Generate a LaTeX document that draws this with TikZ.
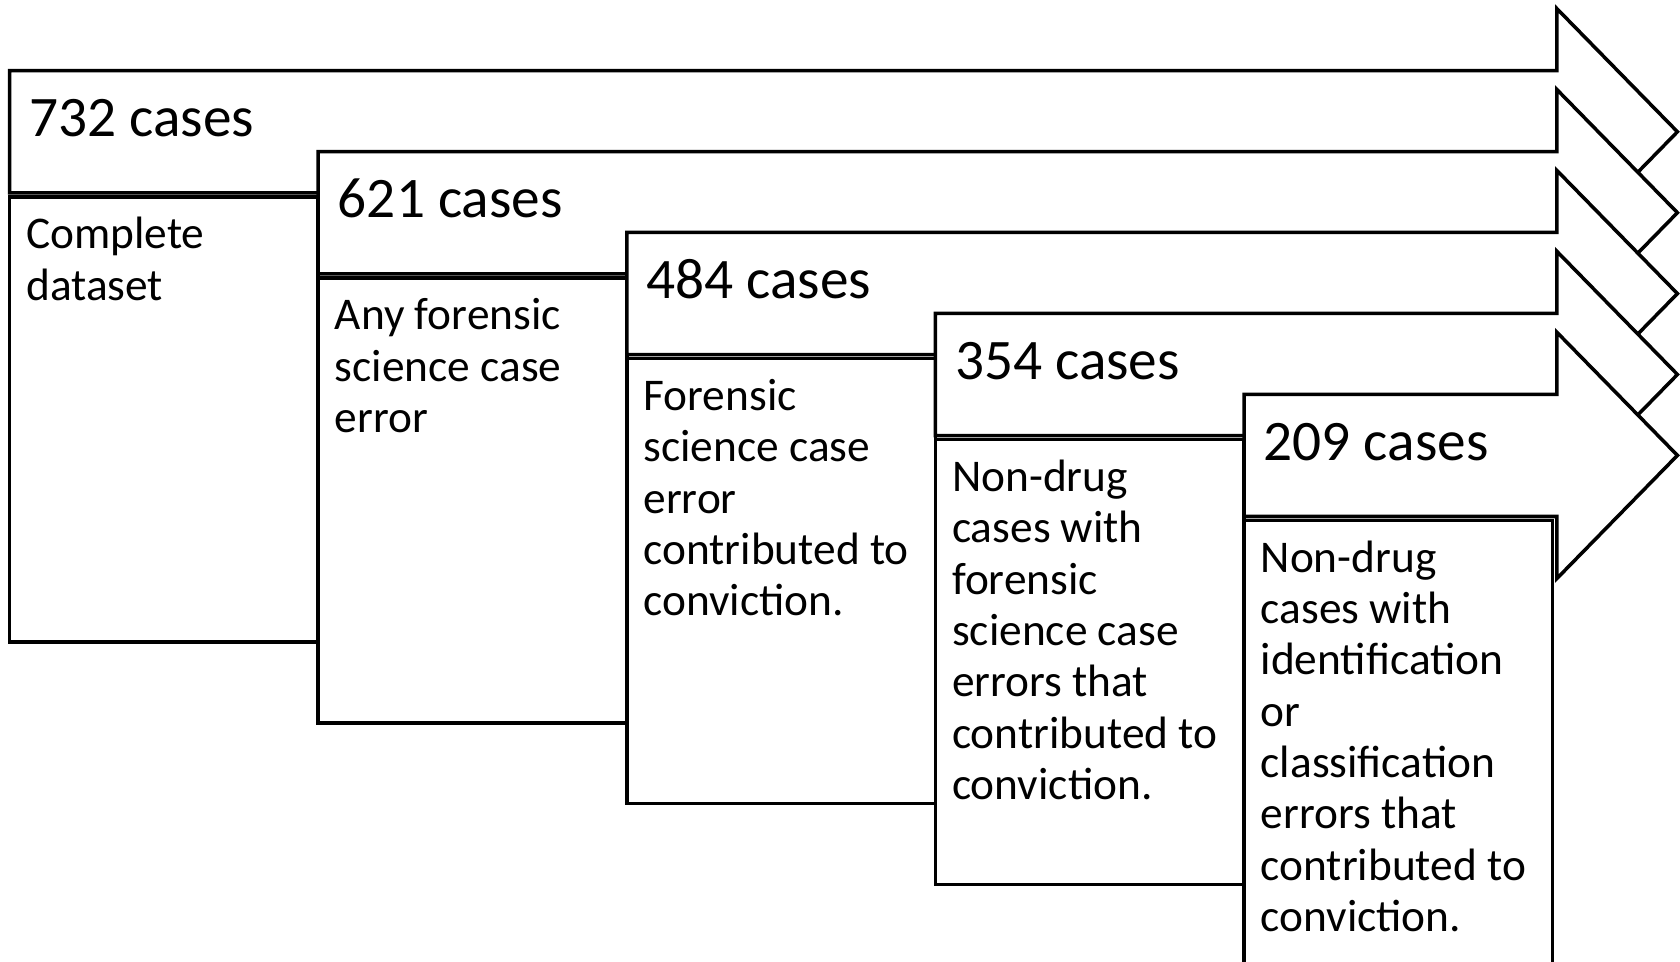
\documentclass[tikz,border=0pt]{standalone}
\usepackage{fontspec}
\setmainfont{Carlito}
\usepackage{tikz}
\usepackage{xcolor}

\begin{document}
\begin{tikzpicture}[x=0.01cm,y=-0.01cm,
  stage/.style={draw, fill=white, line width=1pt, line join=miter},
  count/.style={anchor=base west, inner sep=0pt, font=\fontsize{16.3}{19}\selectfont},
  about/.style={anchor=base west, inner sep=0pt, align=left, font=\fontsize{12.9}{14.6}\selectfont}]
\useasboundingbox (0,0) rectangle (1680,962);
\clip (0,0) rectangle (1680,962);

\draw [stage] (9.6,70.7) -- (1556.8,70.7) -- (1556.8,8.6) -- (1677.4,131.8) -- (1556.8,255) -- (1556.8,192.9) -- (9.6,192.9) -- cycle;
\draw [stage] (9.6,196.9) rectangle (318.2,641.9);
\node [count] (c732) at (28.6,136.7) {732 cases};
\node [about] (d732) at (25.6,300.2) {Complete\\dataset};

\draw [stage] (318.2,151.6) -- (1556.8,151.6) -- (1556.8,89.5) -- (1677.4,212.7) -- (1556.8,335.9) -- (1556.8,273.8) -- (318.2,273.8) -- cycle;
\draw [stage] (318.2,277.8) rectangle (626.8,722.8);
\node [count] (c621) at (337.2,217.6) {621 cases};
\node [about] (d621) at (334.2,432.4) {Any forensic\\science case\\error};

\draw [stage] (626.8,232.5) -- (1556.8,232.5) -- (1556.8,170.4) -- (1677.4,293.6) -- (1556.8,416.8) -- (1556.8,354.7) -- (626.8,354.7) -- cycle;
\draw [stage] (626.8,358.7) rectangle (935.4,803.7);
\node [count] (c484) at (645.8,298.5) {484 cases};
\node [about] (d484) at (642.8,615.9) {Forensic\\science case\\error\\contributed to\\conviction.};

\draw [stage] (935.4,313.4) -- (1556.8,313.4) -- (1556.8,251.3) -- (1677.4,374.5) -- (1556.8,497.7) -- (1556.8,435.6) -- (935.4,435.6) -- cycle;
\draw [stage] (935.4,439.6) rectangle (1244,884.6);
\node [count] (c354) at (954.4,379.4) {354 cases};
\node [about] (d354) at (951.4,799.4) {Non-drug\\cases with\\forensic\\science case\\errors that\\contributed to\\conviction.};

\draw [stage] (1244,394.3) -- (1556.8,394.3) -- (1556.8,332.2) -- (1677.4,455.4) -- (1556.8,578.6) -- (1556.8,516.5) -- (1244,516.5) -- cycle;
\draw [stage] (1244,520.5) rectangle (1552.6,965.5);
\node [count] (c209) at (1263,460.3) {209 cases};
\node [about] (d209) at (1260,931.6) {Non-drug\\cases with\\identification\\or\\classification\\errors that\\contributed to\\conviction.};
\end{tikzpicture}
\end{document}
